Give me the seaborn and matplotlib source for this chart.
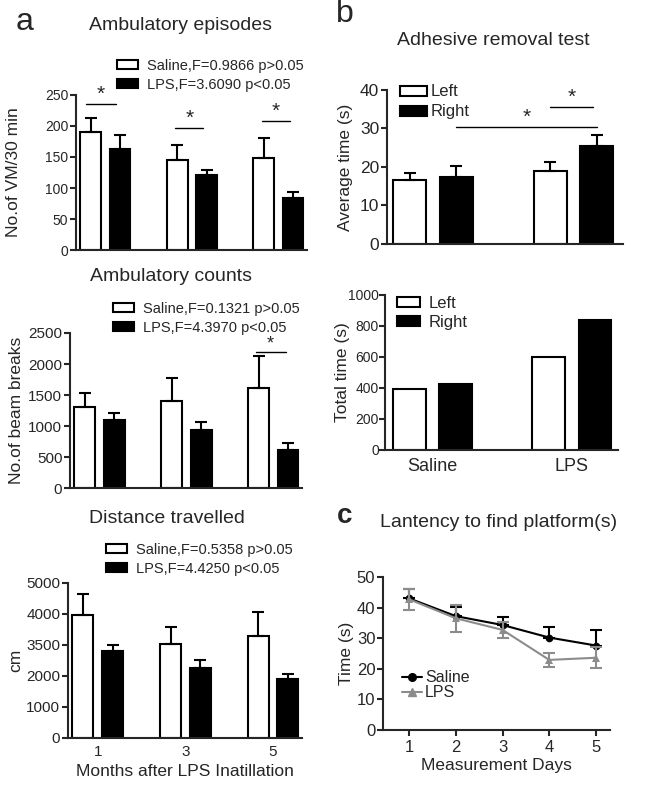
import numpy as np
import pandas as pd
import matplotlib
matplotlib.use('Agg')
import matplotlib.pyplot as plt
import seaborn as sns
from matplotlib.patches import Patch
from matplotlib.lines import Line2D

sns.set_style('ticks')
plt.rcParams['font.family'] = ['Liberation Sans', 'DejaVu Sans']

# ------------------------------------------------------------
# data
# ------------------------------------------------------------
months = ['1', '3', '5']
grp_a = ['Saline', 'LPS']

epi_saline = [190, 145, 148]
epi_saline_err = [23, 24, 33]
epi_lps = [163, 121, 84]
epi_lps_err = [23, 8, 9]
epi_labels = ['Saline,F=0.9866 p>0.05', 'LPS,F=3.6090 p<0.05']

cnt_saline = [1300, 1400, 1610]
cnt_saline_err = [230, 370, 520]
cnt_lps = [1095, 935, 610]
cnt_lps_err = [115, 125, 110]
cnt_labels = ['Saline,F=0.1321 p>0.05', 'LPS,F=4.3970 p<0.05']

dist_saline = [3970, 3030, 3290]
dist_saline_err = [680, 550, 780]
dist_lps = [2810, 2260, 1900]
dist_lps_err = [190, 260, 160]
dist_labels = ['Saline,F=0.5358 p>0.05', 'LPS,F=4.4250 p<0.05']
dist_ticklabels = ['0', '1000', '2000', '3500', '4000', '5000']

treat = ['Saline', 'LPS']
sides = ['Left', 'Right']
avg_left = [16.5, 19.0]
avg_left_err = [1.9, 2.3]
avg_right = [17.5, 25.5]
avg_right_err = [2.7, 2.8]
tot_left = [395, 600]
tot_right = [425, 840]

days = [1, 2, 3, 4, 5]
lat_saline = [43.0, 37.2, 34.3, 30.2, 27.6]
lat_saline_err = [3.0, 3.1, 2.7, 3.6, 5.1]
lat_lps = [42.7, 36.5, 32.7, 22.9, 23.6]
lat_lps_err = [3.5, 4.4, 2.7, 2.4, 3.4]

# significance bars: (group, x0 offset, x1 offset, height)
sig_epi = [(0, -0.22, 0.12, 235), (1, -0.19, 0.13, 197), (2, -0.19, 0.13, 208)]
sig_cnt = [(2, -0.2, 0.14, 2190)]

FS_TITLE = 14
FS_LABEL = 12.5

fig = plt.figure(figsize=(6.53, 7.85), dpi=100)


def style_axis(ax, ticksize, pad=1.5):
    sns.despine(ax=ax)
    for s in ['left', 'bottom']:
        ax.spines[s].set_linewidth(1.5)
    ax.tick_params(axis='y', direction='out', length=4, width=1.5, labelsize=ticksize, pad=pad)
    ax.tick_params(axis='x', length=0, labelsize=ticksize, pad=5)


def bar_panel(ax, cats, hues, v1, v2, e1, e2, colors, width, gap):
    df = pd.DataFrame({
        'cat': cats * 2,
        'grp': [hues[0]] * len(cats) + [hues[1]] * len(cats),
        'val': list(v1) + list(v2),
    })
    sns.barplot(data=df, x='cat', y='val', hue='grp', palette=dict(zip(hues, colors)),
                saturation=1, edgecolor='black', linewidth=1.5, width=width, gap=gap,
                errorbar=None, legend=False, ax=ax)
    if e1 is not None:
        for cont, errs in zip(ax.containers, [e1, e2]):
            for bar, e in zip(cont, errs):
                xc = bar.get_x() + bar.get_width() / 2
                ax.errorbar(xc, bar.get_height(), yerr=[[0], [e]], fmt='none', ecolor='black',
                            elinewidth=1.5, capsize=4, capthick=1.5, zorder=3)
    ax.set_xlabel('')
    ax.set_ylabel('')


def box_legend(ax, labels, x, y, fs, hl, hh, pad, spacing):
    handles = [Patch(facecolor='white', edgecolor='black', linewidth=1.5),
               Patch(facecolor='black', edgecolor='black', linewidth=1.5)]
    ax.legend(handles, labels, loc='center left', bbox_to_anchor=(x, y), frameon=False,
              fontsize=fs, handlelength=hl, handleheight=hh, handletextpad=pad,
              labelspacing=spacing, borderpad=0, borderaxespad=0)


def sig(ax, items, star_size=15):
    for g, a0, a1, h in items:
        ax.plot([g + a0, g + a1], [h, h], color='black', lw=1.0, clip_on=False)
        ax.text(g + (a0 + a1) / 2, h, '*', ha='center', va='bottom', fontsize=star_size)


# ------------------------------------------------------------
# a: ambulatory episodes
# ------------------------------------------------------------
ax1 = fig.add_axes([0.1164, 0.6815, 0.3537, 0.1975])
bar_panel(ax1, months, grp_a, epi_saline, epi_lps, epi_saline_err, epi_lps_err,
          ['white', 'black'], 0.68, 0.3)
ax1.set_ylim(0, 250)
ax1.set_yticks(np.arange(0, 251, 50))
ax1.set_xlim(-0.34, 2.33)
style_axis(ax1, 10)
ax1.tick_params(axis='x', labelbottom=False)
ax1.set_ylabel('No.of VM/30 min', fontsize=FS_LABEL)
ax1.yaxis.set_label_coords(-0.24, 0.5)
box_legend(ax1, epi_labels, 0.177, 1.126, 10.5, 1.45, 0.55, 0.6, 0.35)
sig(ax1, sig_epi)

# ------------------------------------------------------------
# a: ambulatory counts
# ------------------------------------------------------------
ax2 = fig.add_axes([0.1072, 0.3783, 0.3553, 0.1975])
bar_panel(ax2, months, grp_a, cnt_saline, cnt_lps, cnt_saline_err, cnt_lps_err,
          ['white', 'black'], 0.68, 0.3)
ax2.set_ylim(0, 2500)
ax2.set_yticks(np.arange(0, 2501, 500))
ax2.set_xlim(-0.34, 2.33)
style_axis(ax2, 11)
ax2.tick_params(axis='x', labelbottom=False)
ax2.set_ylabel('No.of beam breaks', fontsize=FS_LABEL)
ax2.yaxis.set_label_coords(-0.198, 0.5)
box_legend(ax2, cnt_labels, 0.185, 1.095, 10.5, 1.45, 0.55, 0.6, 0.35)
sig(ax2, sig_cnt, star_size=13)

# ------------------------------------------------------------
# a: distance travelled
# ------------------------------------------------------------
ax3 = fig.add_axes([0.1041, 0.0599, 0.3583, 0.1975])
bar_panel(ax3, months, grp_a, dist_saline, dist_lps, dist_saline_err, dist_lps_err,
          ['white', 'black'], 0.68, 0.3)
ax3.set_ylim(0, 5000)
ax3.set_yticks(np.arange(0, 5001, 1000))
ax3.set_yticklabels(dist_ticklabels)
ax3.set_xlim(-0.34, 2.33)
style_axis(ax3, 11)
ax3.set_ylabel('cm', fontsize=FS_LABEL)
ax3.yaxis.set_label_coords(-0.192, 0.5)
ax3.set_xlabel('Months after LPS Inatillation', fontsize=FS_LABEL)
ax3.xaxis.set_label_coords(0.5, -0.165)
box_legend(ax3, dist_labels, 0.162, 1.152, 10.5, 1.45, 0.55, 0.6, 0.35)

# ------------------------------------------------------------
# b: adhesive removal, average time
# ------------------------------------------------------------
ax4 = fig.add_axes([0.5926, 0.6892, 0.3614, 0.1962])
bar_panel(ax4, treat, sides, avg_left, avg_right, avg_left_err, avg_right_err,
          ['white', 'black'], 0.662, 0.29)
ax4.set_ylim(0, 40)
ax4.set_yticks(np.arange(0, 41, 10))
ax4.set_xlim(-0.327, 1.352)
style_axis(ax4, 12.5)
ax4.tick_params(axis='x', labelbottom=False)
ax4.set_ylabel('Average time (s)', fontsize=FS_LABEL)
ax4.yaxis.set_label_coords(-0.144, 0.5)
box_legend(ax4, sides, 0.055, 0.922, 12, 1.6, 0.55, 0.25, 0.3)
# Saline-Right vs LPS-Right, LPS-Left vs LPS-Right
ax4.plot([0.165, 1.165], [30.4, 30.4], color='black', lw=1.0)
ax4.text(0.665, 30.4, '*', ha='center', va='bottom', fontsize=15)
ax4.plot([0.835, 1.14], [35.6, 35.6], color='black', lw=1.0)
ax4.text(0.99, 35.6, '*', ha='center', va='bottom', fontsize=15)

# ------------------------------------------------------------
# b: adhesive removal, total time
# ------------------------------------------------------------
ax5 = fig.add_axes([0.5896, 0.4268, 0.3568, 0.1975])
bar_panel(ax5, treat, sides, tot_left, tot_right, None, None,
          ['white', 'black'], 0.662, 0.29)
ax5.set_ylim(0, 1000)
ax5.set_yticks(np.arange(0, 1001, 200))
ax5.set_xlim(-0.34, 1.33)
style_axis(ax5, 10, pad=0.5)
ax5.set_ylabel('Total time (s)', fontsize=FS_LABEL)
ax5.yaxis.set_label_coords(-0.15, 0.5)
ax5.tick_params(axis='x', labelsize=13, pad=6)
box_legend(ax5, sides, 0.052, 0.884, 12, 1.4, 0.55, 0.5, 0.25)

# ------------------------------------------------------------
# c: latency to find platform
# ------------------------------------------------------------
ax6 = fig.add_axes([0.5865, 0.0701, 0.3476, 0.1949])
lat = pd.DataFrame({
    'day': days * 2,
    'grp': ['Saline'] * len(days) + ['LPS'] * len(days),
    'time': lat_saline + lat_lps,
})
sns.lineplot(data=lat, x='day', y='time', hue='grp', style='grp',
             palette={'Saline': 'black', 'LPS': '#8c8c8c'},
             markers={'Saline': 'o', 'LPS': '^'}, dashes=False, markersize=5.5,
             markeredgewidth=0, linewidth=1.5, legend=False, ax=ax6)
ax6.errorbar(days, lat_saline, yerr=[np.zeros(len(days)), lat_saline_err], fmt='none',
             ecolor='black', elinewidth=1.5, capsize=4, capthick=1.5, zorder=1)
ax6.errorbar(days, lat_lps, yerr=lat_lps_err, fmt='none', ecolor='#8c8c8c',
             elinewidth=1.5, capsize=4, capthick=1.5, zorder=2)
ax6.set_ylim(0, 50)
ax6.set_yticks(np.arange(0, 51, 10))
ax6.set_xlim(0.44, 5.3)
ax6.set_xticks(days)
style_axis(ax6, 12)
ax6.tick_params(axis='x', length=4, width=1.5, pad=3)
ax6.set_ylabel('Time (s)', fontsize=FS_LABEL)
ax6.yaxis.set_label_coords(-0.128, 0.5)
ax6.set_xlabel('Measurement Days', fontsize=FS_LABEL)
ax6.xaxis.set_label_coords(0.5, -0.18)
line_handles = [Line2D([], [], color='black', marker='o', markersize=5.5, lw=1.5),
                Line2D([], [], color='#8c8c8c', marker='^', markersize=5.5, lw=1.5)]
ax6.legend(line_handles, ['Saline', 'LPS'], loc='center left', bbox_to_anchor=(0.084, 0.291),
           frameon=False, fontsize=11.5, handlelength=1.25, handletextpad=0.2,
           labelspacing=0.0, borderpad=0, borderaxespad=0)

# ------------------------------------------------------------
# titles and panel letters
# ------------------------------------------------------------
fig.text(0.277, 0.968, 'Ambulatory episodes', ha='center', va='center', fontsize=FS_TITLE)
fig.text(0.262, 0.648, 'Ambulatory counts', ha='center', va='center', fontsize=FS_TITLE)
fig.text(0.255, 0.340, 'Distance travelled', ha='center', va='center', fontsize=FS_TITLE)
fig.text(0.755, 0.949, 'Adhesive removal test', ha='center', va='center', fontsize=FS_TITLE)
fig.text(0.764, 0.334, 'Lantency to find platform(s)', ha='center', va='center', fontsize=FS_TITLE)
fig.text(0.038, 0.972, 'a', ha='center', va='center', fontsize=23)
fig.text(0.528, 0.982, 'b', ha='center', va='center', fontsize=23)
fig.text(0.528, 0.343, 'c', ha='center', va='center', fontsize=20, fontweight='bold')

fig.savefig('out.png', dpi=100)
